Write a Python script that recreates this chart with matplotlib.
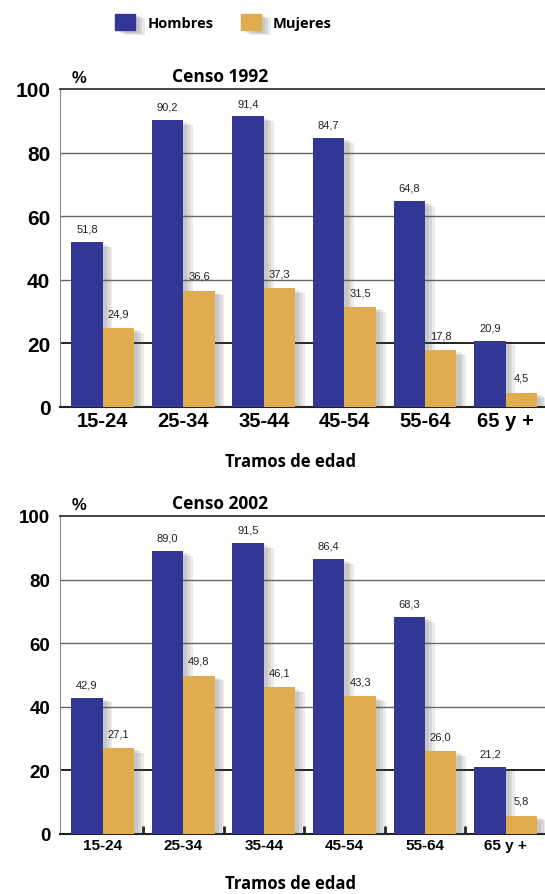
import matplotlib
matplotlib.use("Agg")
import matplotlib.pyplot as plt
import matplotlib.patches as mpatches
import matplotlib.patheffects as pe
import numpy as np

tramos = ['15-24', '25-34', '35-44', '45-54', '55-64', '65 y +']
hombres_1992 = [51.8, 90.2, 91.4, 84.7, 64.8, 20.9]
mujeres_1992 = [24.9, 36.6, 37.3, 31.5, 17.8, 4.5]
hombres_2002 = [42.9, 89.0, 91.5, 86.4, 68.3, 21.2]
mujeres_2002 = [27.1, 49.8, 46.1, 43.3, 26.0, 5.8]

AZUL = '#323694'
NARANJA = '#e0ac50'
BOLD = ['Liberation Sans', 'DejaVu Sans']
NARROW = ['Liberation Sans Narrow', 'Liberation Sans', 'DejaVu Sans']
TITULOS = ['Open Sans', 'DejaVu Sans']

fig = plt.figure(figsize=(5.45, 8.95), dpi=100)

# sombra difusa: varias copias desplazadas con poca opacidad
sombra = [pe.SimplePatchShadow(offset=(d, -d / 2), shadow_rgbFace='#555555', alpha=0.12)
          for d in (7, 5, 3)] + [pe.Normal()]


def fmt(v):
    return f"{v:.1f}".replace('.', ',')


def dibujar(ax, hom, muj, titulo, estilo_ticks):
    x = np.arange(len(tramos))
    w = 0.39
    for y in [20, 40, 60, 80]:
        ax.axhline(y, color='#222222' if y == 20 else '#666666',
                   lw=1.4 if y == 20 else 1.0, zorder=1)
    b1 = ax.bar(x - w / 2, hom, w, color=AZUL, zorder=3)
    b2 = ax.bar(x + w / 2, muj, w, color=NARANJA, zorder=3)
    for b in list(b1) + list(b2):
        b.set_path_effects(sombra)
    for xi, v in zip(x - w / 2, hom):
        ax.annotate(fmt(v), (xi, v), xytext=(0, 6), textcoords='offset points',
                    ha='center', va='bottom', fontsize=8, family=NARROW, color='#222222')
    for xi, v in zip(x + w / 2, muj):
        ax.annotate(fmt(v), (xi, v), xytext=(0, 7), textcoords='offset points',
                    ha='center', va='bottom', fontsize=8, family=NARROW, color='#222222')

    ax.set_xlim(-0.53, 5.49)
    ax.set_ylim(0, 100)
    ax.set_yticks([0, 20, 40, 60, 80, 100])
    ax.set_xticks(x)
    ax.set_xticklabels(tramos)
    ax.spines['right'].set_visible(False)
    ax.spines['top'].set_color('#222222')
    ax.spines['top'].set_linewidth(1.2)
    ax.spines['left'].set_color('#888888')
    ax.spines['bottom'].set_color('#222222')
    ax.spines['bottom'].set_linewidth(1.5)
    ax.tick_params(axis='y', length=0, pad=7)
    ax.tick_params(axis='x', length=0, pad=3)

    if estilo_ticks == 'bold':
        for t in ax.get_yticklabels():
            t.set_fontsize(15)
            t.set_fontweight('bold')
            t.set_family(BOLD)
        for t in ax.get_xticklabels():
            t.set_fontsize(14.5)
            t.set_fontweight('bold')
            t.set_family(BOLD)
        y_etiqueta = -0.17
    else:
        for t in ax.get_yticklabels():
            t.set_fontsize(13.5)
            t.set_fontweight('bold')
            t.set_family(NARROW)
        for t in ax.get_xticklabels():
            t.set_fontsize(11)
            t.set_fontweight('bold')
            t.set_family(NARROW)
        ax.set_xticks(np.arange(0.5, 5.0, 1.0), minor=True)
        ax.tick_params(axis='x', which='minor', direction='in', length=6, width=2, color='#222222')
        y_etiqueta = -0.155

    ax.text(0.025, 1.012, '%', transform=ax.transAxes, fontsize=12, fontweight='bold',
            family=BOLD, ha='left', va='bottom')
    ax.text(0.33, 1.012, titulo, transform=ax.transAxes, fontsize=12.5, fontweight='bold',
            family=TITULOS, ha='center', va='bottom')
    ax.text(0.475, y_etiqueta, 'Tramos de edad', transform=ax.transAxes, fontsize=12,
            fontweight='bold', family=TITULOS, ha='center', va='center')


ax1 = fig.add_axes([60 / 545, 1 - 408 / 895, 485 / 545, 318 / 895])
dibujar(ax1, hombres_1992, mujeres_1992, 'Censo 1992', 'bold')

ax2 = fig.add_axes([60 / 545, 1 - 835 / 895, 485 / 545, 318 / 895])
dibujar(ax2, hombres_2002, mujeres_2002, 'Censo 2002', 'narrow')

handles = [mpatches.Patch(color=AZUL, label='Hombres'),
           mpatches.Patch(color=NARANJA, label='Mujeres')]
leg = fig.legend(handles=handles, loc='center', bbox_to_anchor=(0.41, 1 - 23 / 895), ncol=2,
                 frameon=False, handlelength=1.4, handleheight=1.4, columnspacing=1.9,
                 prop={'family': TITULOS, 'weight': 'bold', 'size': 10.5})
for h in leg.legend_handles:
    h.set_path_effects(sombra)

fig.savefig('out.png', dpi=100)
